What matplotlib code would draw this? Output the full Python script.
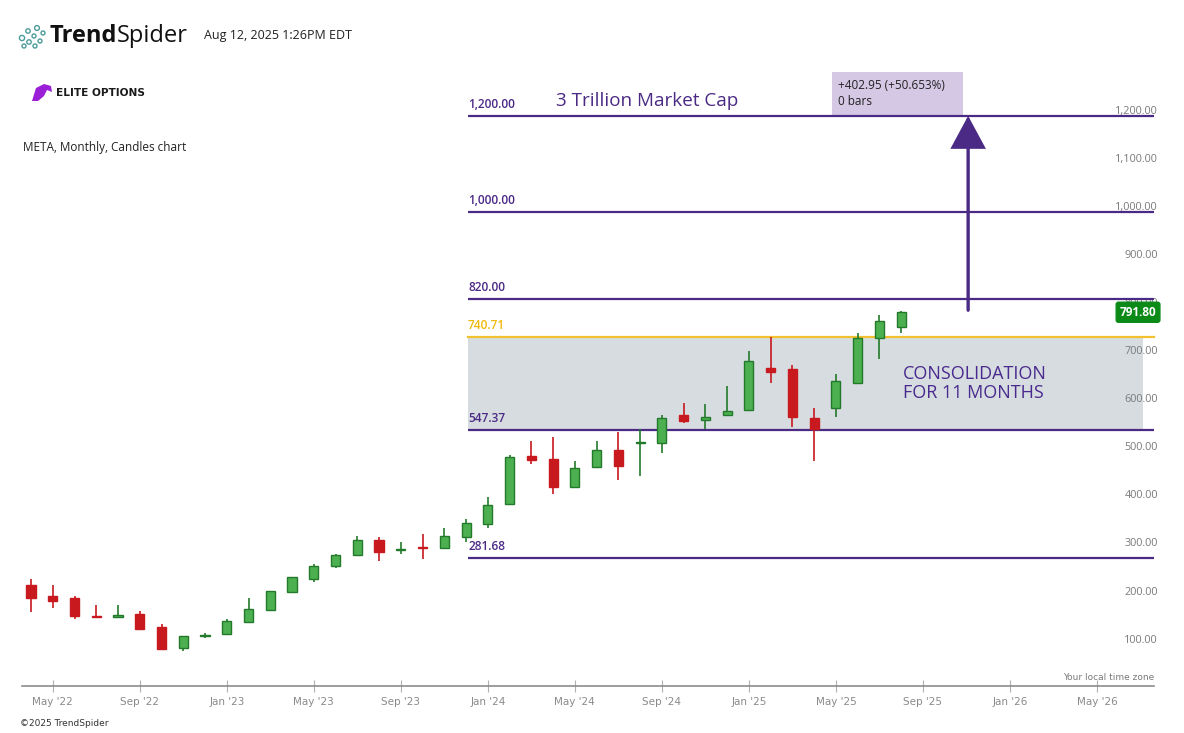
import matplotlib
matplotlib.use("Agg")
import matplotlib.pyplot as plt
from matplotlib.patches import Rectangle, Polygon, Circle, FancyArrowPatch
from matplotlib.transforms import blended_transform_factory, offset_copy

# ---------------- data ----------------
months = ["Apr '22", "May '22", "Jun '22", "Jul '22", "Aug '22", "Sep '22", "Oct '22", "Nov '22",
          "Dec '22", "Jan '23", "Feb '23", "Mar '23", "Apr '23", "May '23", "Jun '23", "Jul '23",
          "Aug '23", "Sep '23", "Oct '23", "Nov '23", "Dec '23", "Jan '24", "Feb '24", "Mar '24",
          "Apr '24", "May '24", "Jun '24", "Jul '24", "Aug '24", "Sep '24", "Oct '24", "Nov '24",
          "Dec '24", "Jan '25", "Feb '25", "Mar '25", "Apr '25", "May '25", "Jun '25", "Jul '25",
          "Aug '25"]
opens = [224.7, 201.9, 197.7, 160.3, 157.6, 164.4, 137.4, 93.1, 117.7, 122.2, 148.0, 172.8, 209.6,
         237.8, 264.9, 286.5, 317.7, 298.5, 303.7, 301.0, 325.2, 351.0, 392.5, 493.0, 486.7, 427.9,
         470.7, 505.4, 520.0, 519.3, 577.5, 567.2, 577.5, 589.2, 675.9, 673.8, 571.3, 592.1, 644.0,
         737.6, 760.5]
highs = [237.0, 224.7, 201.2, 183.2, 183.2, 170.7, 143.0, 118.0, 124.3, 153.4, 197.0, 211.6, 241.0,
         267.8, 289.2, 326.6, 323.9, 314.0, 330.8, 342.6, 361.3, 407.0, 495.0, 524.0, 532.4, 482.5,
         524.0, 542.8, 548.4, 578.2, 603.7, 601.0, 638.5, 711.8, 740.0, 682.7, 592.1, 663.4, 749.0,
         786.0, 795.0]
lows = [169.0, 177.5, 154.7, 158.0, 157.6, 133.0, 92.0, 88.0, 114.0, 122.0, 148.0, 172.0, 209.0,
        231.6, 260.7, 286.0, 275.3, 289.0, 279.4, 301.0, 314.8, 342.6, 392.0, 476.9, 414.6, 427.0,
        468.6, 443.7, 452.0, 498.5, 562.2, 549.0, 577.0, 589.0, 644.0, 553.8, 482.5, 573.4, 642.6,
        694.0, 748.0]
closes = [198.3, 192.0, 160.9, 158.2, 162.4, 133.9, 92.3, 118.0, 119.8, 149.3, 174.2, 211.6, 240.7,
          263.6, 286.5, 317.7, 294.0, 300.6, 301.7, 326.0, 353.0, 390.4, 490.2, 484.6, 429.1, 467.4,
          504.8, 472.8, 522.0, 571.3, 566.3, 573.4, 586.5, 690.4, 667.6, 574.0, 548.4, 648.2, 737.6,
          773.0, 791.8]
last_price = 791.80

x_tick_idx = [1, 5, 9, 13, 17, 21, 25, 29, 33, 37, 41, 45, 49]
x_tick_labels = ["May '22", "Sep '22", "Jan '23", "May '23", "Sep '23", "Jan '24", "May '24",
                 "Sep '24", "Jan '25", "May '25", "Sep '25", "Jan '26", "May '26"]
y_ticks = [100, 200, 300, 400, 500, 600, 700, 800, 900, 1000, 1100, 1200]

purple_levels = [1200.00, 1000.00, 820.00, 547.37, 281.68]
yellow_level = 740.71
zone_low, zone_high = 547.37, 740.71
arrow_from, arrow_to = 796.0, 1200.0
move_text = "+402.95 (+50.653%)\n0 bars"

# ---------------- style ----------------
PURPLE = "#4b2a85"
GREEN_F, GREEN_E = "#4caf50", "#237a2a"
RED_F, RED_E = "#c8191f", "#c8191f"
W, H = 1184, 733

fig = plt.figure(figsize=(W / 100, H / 100), dpi=100)
fig.patch.set_facecolor("white")

L, R, B, T = 22, 1160, 686, 60
ax = fig.add_axes([L / W, 1 - B / H, (R - L) / W, (B - T) / H])
ax.patch.set_alpha(0)
ax.set_xlim(-0.414, 51.9)
ax.set_ylim(14.76, 1316.2)
for s in ["top", "right", "left"]:
    ax.spines[s].set_visible(False)
ax.spines["bottom"].set_color("#8c8c8c")
ax.spines["bottom"].set_linewidth(1.2)
ax.spines["bottom"].set_bounds(-0.414, 51.63)

# ticks
ax.set_yticks([])
ax.set_xticks(x_tick_idx)
ax.set_xticklabels(x_tick_labels, fontsize=7.5, color="#8a8a8a", family="DejaVu Sans")
ax.tick_params(axis="x", direction="inout", length=8, width=0.8, color="#b0b0b0", pad=4)

# consolidation zone
line_start = 20.09
line_end = 51.63
ax.add_patch(Rectangle((line_start, zone_low), 51.13 - line_start, zone_high - zone_low,
                       facecolor="#d6dce0", edgecolor="none", zorder=1))

# y tick labels (inside, right)
bt = blended_transform_factory(ax.transAxes, ax.transData)
bt_off = offset_copy(bt, fig=fig, y=3.5, units="points")
for v in y_ticks:
    ax.text(0.9982, v, f"{v:,.2f}", transform=bt_off, ha="right", va="center",
            fontsize=7.8, color="#7a7a7a", family="Open Sans", zorder=2)

# level lines
for lv in purple_levels:
    ax.plot([line_start, line_end], [lv, lv], color=PURPLE, lw=1.6, zorder=3, solid_capstyle="butt")
ax.plot([line_start, line_end], [yellow_level, yellow_level], color="#f2c12e", lw=1.6, zorder=3)

lab_tr = offset_copy(ax.transData, fig=fig, y=3.5, units="points")
for lv in purple_levels:
    ax.text(line_start, lv, f"{lv:,.2f}", transform=lab_tr, ha="left", va="bottom",
            fontsize=8.6, color=PURPLE, family="Open Sans", fontweight="semibold", zorder=4)
ax.text(line_start, yellow_level, f"{yellow_level:,.2f}", transform=lab_tr, ha="left", va="bottom",
        fontsize=8.6, color="#f0b90b", family="Open Sans", fontweight="semibold", zorder=4)

# candles
bw = 0.42
for i in range(len(months)):
    o, h, l, c = opens[i], highs[i], lows[i], closes[i]
    up = c >= o
    fc, ec = (GREEN_F, GREEN_E) if up else (RED_F, RED_E)
    wc = GREEN_E if up else RED_F
    ax.plot([i, i], [l, h], color=wc, lw=1.2, zorder=5, solid_capstyle="butt")
    lo, hi = min(o, c), max(o, c)
    hgt = max(hi - lo, 1.5)
    ax.add_patch(Rectangle((i - bw / 2, lo), bw, hgt, facecolor=fc, edgecolor=ec,
                           lw=1.0, zorder=6))

# arrow
arrow_x = 43.08
ax.add_patch(FancyArrowPatch((arrow_x, arrow_from), (arrow_x, arrow_to),
                             arrowstyle="-|>,head_length=20,head_width=10.8",
                             mutation_scale=1, color=PURPLE, lw=2.4, joinstyle="miter",
                             shrinkA=0, shrinkB=0, zorder=7))

# measurement box
ax.add_patch(Rectangle((36.8, 1201.9), 42.85 - 36.8, 1291 - 1201.9,
                       facecolor="#d4c8e4", edgecolor="none", zorder=2))
ax.text(37.12, 1247, move_text, ha="left", va="center", fontsize=8.5, color="#222222",
        family="Open Sans", linespacing=1.35, zorder=8)

# annotations
ax.text(24.14, 1231, "3 Trillion Market Cap", ha="left", va="center", fontsize=13.6,
        color=PURPLE, family="Open Sans", zorder=8)
ax.text(40.1, 643.7, "CONSOLIDATION\nFOR 11 MONTHS", ha="left", va="center", fontsize=13,
        color="#4a2a8e", family="Open Sans", linespacing=1.05, zorder=8)

# last price badge
ax.text(0.9807, last_price, f"{last_price:.2f}", transform=bt, ha="center", va="center",
        fontsize=8.5, color="white", fontweight="bold", family="Open Sans", zorder=10,
        bbox=dict(boxstyle="round,pad=0.3,rounding_size=0.2", facecolor="#0b8a17",
                  edgecolor="#0b8a17"), clip_on=False)

ax.text(1.0 - 6 / (R - L), 0.006, "Your local time zone", transform=ax.transAxes, ha="right",
        va="bottom", fontsize=6.5, color="#7a7a7a", family="DejaVu Sans")

# ---------------- header overlay (pixel coordinates) ----------------
ov = fig.add_axes([0, 0, 1, 1], zorder=5)
ov.set_xlim(0, W)
ov.set_ylim(H, 0)
ov.axis("off")
ov.patch.set_alpha(0)

teal = "#4d9c9c"
for (cx, cy, r) in [(22, 38, 2.6), (28, 31, 2.2), (29, 42, 2.2), (34, 36, 2.0), (37, 28, 2.4),
                    (40, 41, 2.0), (43, 33, 2.0), (35, 46, 2.0), (24, 46, 2.0)]:
    ov.add_patch(Circle((cx, cy), r, facecolor="none", edgecolor=teal, lw=1.0))
ov.text(50, 36, "Trend", ha="left", va="center", fontsize=17, fontweight="bold",
        family="Open Sans", color="#111111")
ov.text(116.5, 36, "Spider", ha="left", va="center", fontsize=17, family="Open Sans",
        color="#111111")
ov.text(204, 36, "Aug 12, 2025 1:26PM EDT", ha="left", va="center", fontsize=9,
        family="Open Sans", color="#222222")

ov.add_patch(Polygon([(32, 101), (36, 88), (44, 84), (51, 86), (52, 92), (47, 90), (44, 96), (38, 101)],
                     closed=True, facecolor="#9b1fd6", edgecolor="none"))
ov.text(56, 93.5, "ELITE OPTIONS", ha="left", va="center", fontsize=7.6, fontweight="bold",
        family="DejaVu Sans", color="#1a1a1a")

ov.text(23, 147.5, "META, Monthly, Candles chart", ha="left", va="center", fontsize=8.5,
        family="Open Sans", color="#222222")
ov.text(20, 723, "\u00a92025 TrendSpider", ha="left", va="center", fontsize=6.5,
        family="DejaVu Sans", color="#333333")

fig.savefig("out.png", dpi=100, facecolor="white")
